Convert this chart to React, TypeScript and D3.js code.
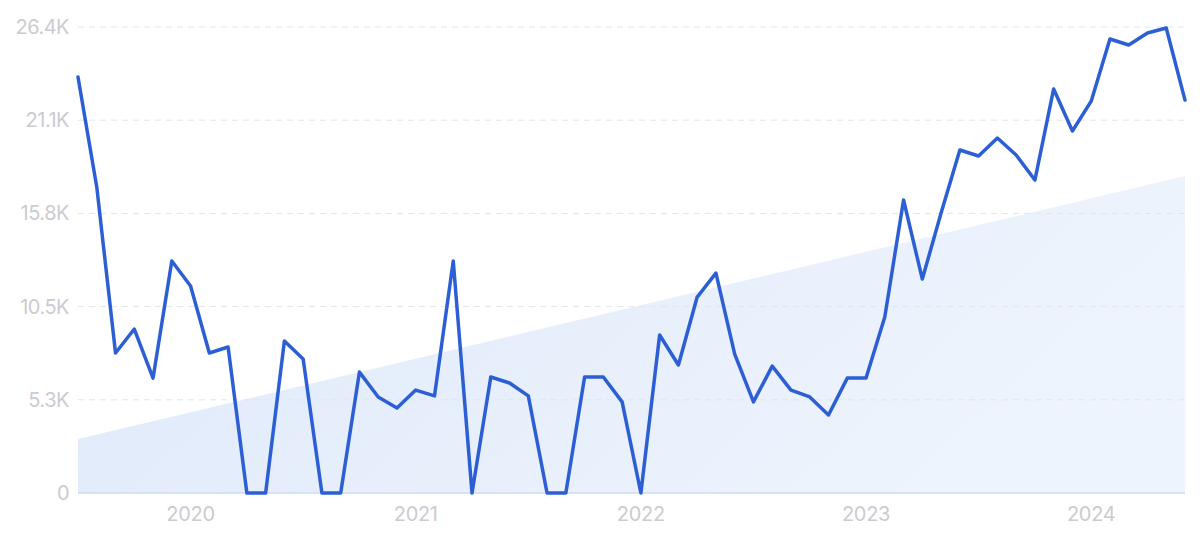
import React from "react";
import * as d3 from "d3";

const values: number[] = [
  23570, 17340, 7930, 9290, 6510, 13140, 11730, 7930, 8270, 0,
  0, 8610, 7590, 0, 0, 6850, 5440, 4820, 5830, 5500,
  13140, 0, 6570, 6230, 5500, 0, 0, 6570, 6570, 5160,
  0, 8950, 7250, 11100, 12460, 7870, 5160, 7190, 5830, 5440,
  4420, 6510, 6510, 9970, 16600, 12120, 15860, 19430, 19090, 20110,
  19150, 17730, 22890, 20510, 22200, 25720, 25380, 26060, 26340, 22260,
];
const trendStart = 3060;
const trendEnd = 17960;
const yTickValues: number[] = [0, 5280, 10560, 15840, 21120, 26400];
const yTickLabels: string[] = ["0", "5.3K", "10.5K", "15.8K", "21.1K", "26.4K"];
const xTickIndex: number[] = [6, 18, 30, 42, 54];
const xTickLabels: string[] = ["2020", "2021", "2022", "2023", "2024"];

const W = 1200;
const H = 560;
const left = 78;
const right = 1185;
const top = 27;
const bottom = 493;

export default function App() {
  const x = d3.scaleLinear().domain([0, values.length - 1]).range([left, right]);
  const y = d3.scaleLinear().domain([0, 26400]).range([bottom, top]);
  const line = d3
    .line<number>()
    .x((_, i) => x(i))
    .y((d) => y(d));
  const trend = [
    { i: 0, v: trendStart },
    { i: values.length - 1, v: trendEnd },
  ];
  const area = d3
    .area<{ i: number; v: number }>()
    .x((d) => x(d.i))
    .y0(y(0))
    .y1((d) => y(d.v));
  const font = "Inter, 'Noto Sans', sans-serif";
  return (
    <svg
      width={W}
      height={H}
      style={{ position: "absolute", left: 0, top: 0, background: "#fff" }}
    >
      <defs>
        <linearGradient id="areaGrad" x1="0" y1="0" x2="1" y2="0.3">
          <stop offset="0%" stopColor="#dfe9fa" />
          <stop offset="100%" stopColor="#eef4fd" />
        </linearGradient>
      </defs>
      <path d={area(trend) || ""} fill="url(#areaGrad)" />
      {yTickValues.map((v, k) =>
        k === 0 ? null : (
          <line
            key={"g" + k}
            x1={left}
            x2={right}
            y1={y(v)}
            y2={y(v)}
            stroke="#dfe5ef"
            strokeWidth={1}
            strokeDasharray="6 5"
          />
        )
      )}
      <line x1={left} x2={right} y1={y(0)} y2={y(0)} stroke="#cddcf3" strokeWidth={1.5} />
      {yTickValues.map((v, k) => (
        <text
          key={"yl" + k}
          x={69}
          y={y(v)}
          dy="0.35em"
          textAnchor="end"
          fontFamily={font}
          fontSize={20}
          letterSpacing={-0.5}
          fill="#cbcbd1"
        >
          {yTickLabels[k]}
        </text>
      ))}
      {xTickIndex.map((idx, k) => (
        <text
          key={"xl" + k}
          x={x(idx)}
          y={521}
          textAnchor="middle"
          fontFamily={font}
          fontSize={20}
          letterSpacing={-0.3}
          fill="#cbcbd1"
        >
          {xTickLabels[k]}
        </text>
      ))}
      <path
        d={line(values) || ""}
        fill="none"
        stroke="#2d5fd4"
        strokeWidth={3.5}
        strokeLinejoin="round"
        strokeLinecap="round"
      />
    </svg>
  );
}
